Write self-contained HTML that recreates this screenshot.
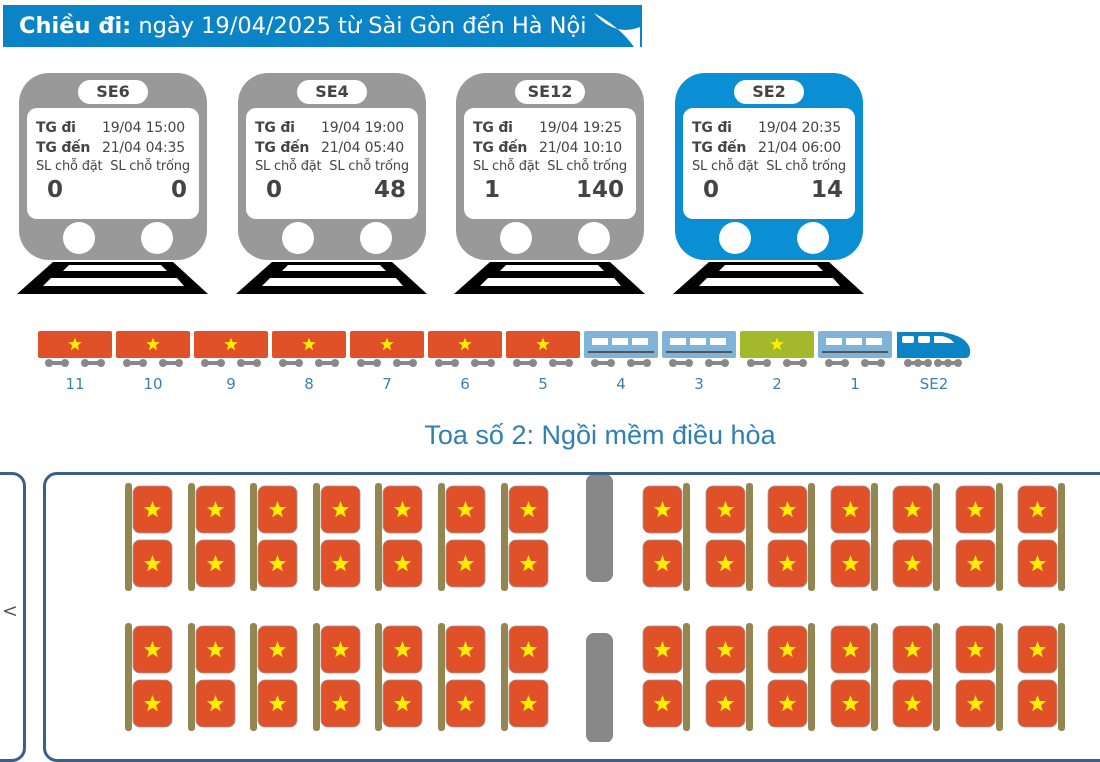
<!DOCTYPE html>
<html><head><meta charset="utf-8"><style>
*{margin:0;padding:0;box-sizing:border-box}
body{width:1100px;height:742px;background:#fff;position:relative;overflow:hidden;font-family:"DejaVu Sans","Liberation Sans",sans-serif;color:#333}
.hdr{position:absolute;left:3px;top:5px;width:639px;height:42px;background:#0a84c6;color:#fff;font-size:22.5px;line-height:42px;padding-left:16px;white-space:nowrap}
.tr{position:absolute;top:73px;width:188px;height:187px;background:#999;border-radius:30px}
.tr.b{background:#0a8ed4}
.pill{position:absolute;left:59px;top:7px;width:70px;height:24px;background:#fff;border-radius:12px;text-align:center;font-weight:bold;font-size:16px;line-height:24px;color:#444}
.win{position:absolute;left:8px;top:35px;width:172px;height:111px;background:#fff;border-radius:10px;font-size:14px;color:#444}
.row{position:absolute;left:9px;right:0;white-space:nowrap;letter-spacing:-0.2px}
.row b{display:inline-block;width:66px}
.num{position:absolute;top:69px;font-weight:bold;font-size:23px}
.wh{position:absolute;top:149px;width:32px;height:32px;border-radius:50%;background:#fff}
.lbl{position:absolute;top:375px;width:74px;text-align:center;color:#3f7fae;font-size:15px}
.box{position:absolute;border:3px solid #3a5f8f;border-radius:14px}
</style></head><body>
<div class="hdr"><b>Chiều đi:</b> ngày 19/04/2025 từ Sài Gòn đến Hà Nội</div>
<svg style="position:absolute;left:590px;top:5px" width="52" height="42"><path d="M4 8 Q25 32 50 22 L50 42 L44 42 Q30 22 4 8Z" fill="#fff"/></svg>

<div class="tr" style="left:19px"><div class="pill">SE6</div><div class="win">
<div class="row" style="top:12px"><b>TG đi</b>19/04 15:00</div>
<div class="row" style="top:32px"><b>TG đến</b>21/04 04:35</div>
<div class="row" style="top:51px;font-size:13px">SL chỗ đặt &nbsp;SL chỗ trống</div>
<div class="num" style="left:20px">0</div><div class="num" style="right:12px">0</div></div>
<div class="wh" style="left:44px"></div><div class="wh" style="left:122px"></div></div>

<div class="tr" style="left:238px"><div class="pill">SE4</div><div class="win">
<div class="row" style="top:12px"><b>TG đi</b>19/04 19:00</div>
<div class="row" style="top:32px"><b>TG đến</b>21/04 05:40</div>
<div class="row" style="top:51px;font-size:13px">SL chỗ đặt &nbsp;SL chỗ trống</div>
<div class="num" style="left:20px">0</div><div class="num" style="right:12px">48</div></div>
<div class="wh" style="left:44px"></div><div class="wh" style="left:122px"></div></div>

<div class="tr" style="left:456px"><div class="pill">SE12</div><div class="win">
<div class="row" style="top:12px"><b>TG đi</b>19/04 19:25</div>
<div class="row" style="top:32px"><b>TG đến</b>21/04 10:10</div>
<div class="row" style="top:51px;font-size:13px">SL chỗ đặt &nbsp;SL chỗ trống</div>
<div class="num" style="left:20px">1</div><div class="num" style="right:12px">140</div></div>
<div class="wh" style="left:44px"></div><div class="wh" style="left:122px"></div></div>

<div class="tr b" style="left:675px"><div class="pill">SE2</div><div class="win">
<div class="row" style="top:12px"><b>TG đi</b>19/04 20:35</div>
<div class="row" style="top:32px"><b>TG đến</b>21/04 06:00</div>
<div class="row" style="top:51px;font-size:13px">SL chỗ đặt &nbsp;SL chỗ trống</div>
<div class="num" style="left:20px">0</div><div class="num" style="right:12px">14</div></div>
<div class="wh" style="left:44px"></div><div class="wh" style="left:122px"></div></div>

<svg id="tracks" style="position:absolute;left:0;top:0" width="1100" height="742"></svg>

<div class="lbl" style="left:38px">11</div><div class="lbl" style="left:116px">10</div><div class="lbl" style="left:194px">9</div><div class="lbl" style="left:272px">8</div><div class="lbl" style="left:350px">7</div><div class="lbl" style="left:428px">6</div><div class="lbl" style="left:506px">5</div><div class="lbl" style="left:584px">4</div><div class="lbl" style="left:662px">3</div><div class="lbl" style="left:740px">2</div><div class="lbl" style="left:818px">1</div><div class="lbl" style="left:897px">SE2</div>

<div style="position:absolute;left:0;width:1100px;top:420px;text-align:center;font-size:27px;color:#2f7fb4;font-family:'Liberation Sans',sans-serif;padding-left:100px">Toa số 2: Ngồi mềm điều hòa</div>

<div class="box" style="left:-14px;top:472px;width:40px;height:290px"></div>
<div style="position:absolute;left:2px;top:600px;font-size:19px;color:#555">&lt;</div>
<div class="box" style="left:43px;top:472px;width:1080px;height:290px"></div>

<script>
var s=document.getElementById('tracks'),h='';
function star(cx,cy,r,c){var p=[];for(var i=0;i<10;i++){var a=-Math.PI/2+i*Math.PI/5,rr=i%2?r*0.42:r;p.push((cx+rr*Math.cos(a)).toFixed(1)+','+(cy+rr*Math.sin(a)).toFixed(1));}return '<polygon points="'+p.join(' ')+'" fill="'+c+'"/>';}
[19,238,456,675].forEach(function(x){
h+='<polygon points="'+(x+34)+',262 '+(x+154)+',262 '+(x+189)+',294 '+(x-2)+',294" fill="#000"/>';
h+='<polygon points="'+(x+50)+',265 '+(x+142)+',265 '+(x+148)+',271 '+(x+44)+',271" fill="#fff"/>';
h+='<polygon points="'+(x+32)+',278 '+(x+158)+',278 '+(x+165)+',286 '+(x+24)+',286" fill="#fff"/>';});
for(var i=0;i<11;i++){var x=38+i*78,k=10-i;var c=k>=4?'#e0512a':(k==1?'#a3b82b':'#7fb3d8');
h+='<rect x="'+x+'" y="331" width="74" height="27" rx="2" fill="'+c+'"/>';
if(k>=4||k==1)h+=star(x+37,344.5,7,'#ffee00');else{for(var j=0;j<3;j++)h+='<rect x="'+(x+8+j*20)+'" y="338" width="16" height="7" fill="#fff"/>';h+='<rect x="'+(x+4)+'" y="351" width="66" height="2" fill="#555"/>';}
[x+10,x+46].forEach(function(w){h+='<rect x="'+w+'" y="361" width="18" height="4" fill="#888"/><circle cx="'+(w+1)+'" cy="363" r="4" fill="#888"/><circle cx="'+(w+17)+'" cy="363" r="4" fill="#888"/>';});}
h+='<path d="M897 332 h45 q25 4 28 17 v4 q0 5 -5 5 h-68z" fill="#0a84c6"/>';
h+='<rect x="902" y="336" width="12" height="7" rx="2" fill="#fff"/><rect x="918" y="336" width="12" height="7" rx="2" fill="#fff"/><path d="M934 336 h8 q9 2 12 7 h-20z" fill="#fff"/>';
[907,937].forEach(function(w){h+='<rect x="'+w+'" y="361" width="22" height="4" fill="#888"/><circle cx="'+(w+1)+'" cy="363" r="4" fill="#888"/><circle cx="'+(w+11)+'" cy="363" r="4" fill="#888"/><circle cx="'+(w+21)+'" cy="363" r="4" fill="#888"/>';});
h+='<rect x="586" y="474" width="27" height="108" rx="8" fill="#888"/><rect x="586" y="633" width="27" height="110" rx="8" fill="#888"/>';
function seat(x,y){return '<rect x="'+x+'" y="'+y+'" width="39" height="47" rx="7" fill="#e0512a" stroke="#999" stroke-width="0.8"/>'+star(x+19.5,y+24,9,'#ffee00');}
[[486,540],[626,680]].forEach(function(ys){
for(var i=0;i<7;i++){var x=Math.round(133+i*62.6);h+='<rect x="'+(x-8)+'" y="'+(ys[0]-3)+'" width="7" height="108" rx="3" fill="#948650"/>';h+=seat(x,ys[0])+seat(x,ys[1]);}
for(var i=0;i<7;i++){var x=Math.round(643+i*62.5);h+='<rect x="'+(x+40)+'" y="'+(ys[0]-3)+'" width="7" height="108" rx="3" fill="#948650"/>';h+=seat(x,ys[0])+seat(x,ys[1]);}});
s.innerHTML=h;
</script>
</body></html>
